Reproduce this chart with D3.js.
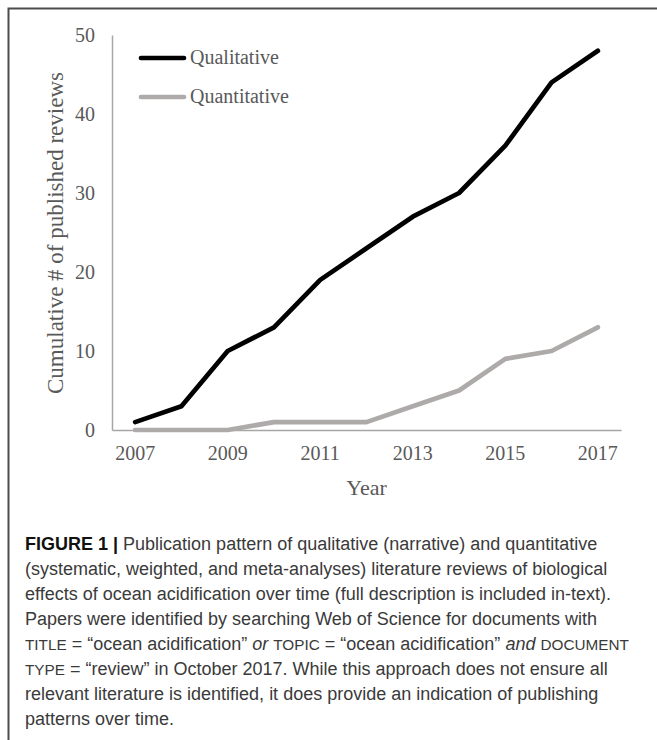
<!DOCTYPE html>
<html><head><meta charset="utf-8">
<script src="https://cdn.jsdelivr.net/npm/d3@7"></script>
<style>
html,body{margin:0;padding:0;background:#fff;}
svg{display:block;}
</style></head>
<body>
<script>
const years = [2007,2008,2009,2010,2011,2012,2013,2014,2015,2016,2017];
const qualitative = [1,3,10,13,19,23,27,30,36,44,48];
const quantitative = [0,0,0,1,1,1,3,5,9,10,13];
const yTicks = [0,10,20,30,40,50];
const xTickLabels = [2007,2009,2011,2013,2015,2017];
const seriesNames = ["Qualitative","Quantitative"];

const W = 657, H = 740;
const svg = d3.select("body").append("svg").attr("width",W).attr("height",H);
svg.append("rect").attr("width",W).attr("height",H).attr("fill","#fff");

// frame
svg.append("path").attr("d",`M8.5,${H} L8.5,8.5 L${W},8.5`).attr("fill","none").attr("stroke","#4d4d4d").attr("stroke-width",2);

const x = d3.scaleBand().domain(years).range([112,621]);
const y = d3.scaleLinear().domain([0,50]).range([430,35]);
const serif = "'Liberation Serif','Times New Roman',serif";
const txt = "#595959";

// axes
const xAxis = svg.append("g").attr("transform","translate(0,430)")
  .call(d3.axisBottom(x).tickValues(xTickLabels).tickSize(0).tickPadding(16));
xAxis.select(".domain").attr("stroke","#a6a6a6").attr("stroke-width",1.5);
xAxis.selectAll("text").attr("font-family",serif).attr("font-size",20).attr("fill",txt);

const yAxis = svg.append("g").attr("transform","translate(112,0)")
  .call(d3.axisLeft(y).tickValues(yTicks).tickSize(0).tickPadding(17));
yAxis.select(".domain").attr("stroke","#a6a6a6").attr("stroke-width",1.5);
yAxis.selectAll("text").attr("font-family",serif).attr("font-size",20).attr("fill",txt);

// axis titles
svg.append("text").attr("x",366.5).attr("y",495).attr("text-anchor","middle")
  .attr("font-family",serif).attr("font-size",22).attr("fill",txt).text("Year");
svg.append("text").attr("transform","translate(63,233) rotate(-90)").attr("text-anchor","middle")
  .attr("font-family",serif).attr("font-size",23).attr("fill",txt).text("Cumulative # of published reviews");

// lines
const line = d3.line().x((d,i)=>x(years[i])+x.bandwidth()/2).y(d=>y(d));
const colors = ["#000000","#aeaaaa"];
[qualitative,quantitative].forEach((s,k)=>{
  svg.append("path").datum(s).attr("d",line).attr("fill","none")
    .attr("stroke",colors[k]).attr("stroke-width",4.7)
    .attr("stroke-linejoin","round").attr("stroke-linecap","round");
});

// legend
seriesNames.forEach((n,k)=>{
  const ly = 58 + k*39;
  svg.append("line").attr("x1",141).attr("x2",184).attr("y1",ly).attr("y2",ly)
    .attr("stroke",colors[k]).attr("stroke-width",4.7).attr("stroke-linecap","round");
  svg.append("text").attr("x",190).attr("y",ly+6).attr("font-family",serif).attr("font-size",20)
    .attr("fill",txt).text(n);
});

// caption
const sans = "'Liberation Sans',Arial,Helvetica,sans-serif";
const cap = svg.append("text").attr("font-family",sans).attr("font-size",18).attr("fill","#3a3a3a");
const lines = [
  [["FIGURE 1 | ","b"],["Publication pattern of qualitative (narrative) and quantitative",""]],
  [["(systematic, weighted, and meta-analyses) literature reviews of biological",""]],
  [["effects of ocean acidification over time (full description is included in-text).",""]],
  [["Papers were identified by searching Web of Science for documents with",""]],
  [["TITLE","sc"],[" = \u201cocean acidification\u201d ",""],["or","i"],[" ",""],["TOPIC","sc"],[" = \u201cocean acidification\u201d ",""],["and","i"],[" ",""],["DOCUMENT","sc"]],
  [["TYPE","sc"],[" = \u201creview\u201d in October 2017. While this approach does not ensure all",""]],
  [["relevant literature is identified, it does provide an indication of publishing",""]],
  [["patterns over time.",""]]
];
lines.forEach((ln,i)=>{
  ln.forEach((seg,j)=>{
    const t = cap.append("tspan").text(seg[0]);
    if(j===0){ t.attr("x",25).attr("y",549.5+i*25.1); }
    if(seg[1]==="b"){ t.attr("font-weight","bold").attr("fill","#111"); }
    if(seg[1]==="i"){ t.attr("font-style","italic"); }
    if(seg[1]==="sc"){ t.attr("font-size",15.3); }
  });
});
cap.style("white-space","pre");
</script>
</body></html>
